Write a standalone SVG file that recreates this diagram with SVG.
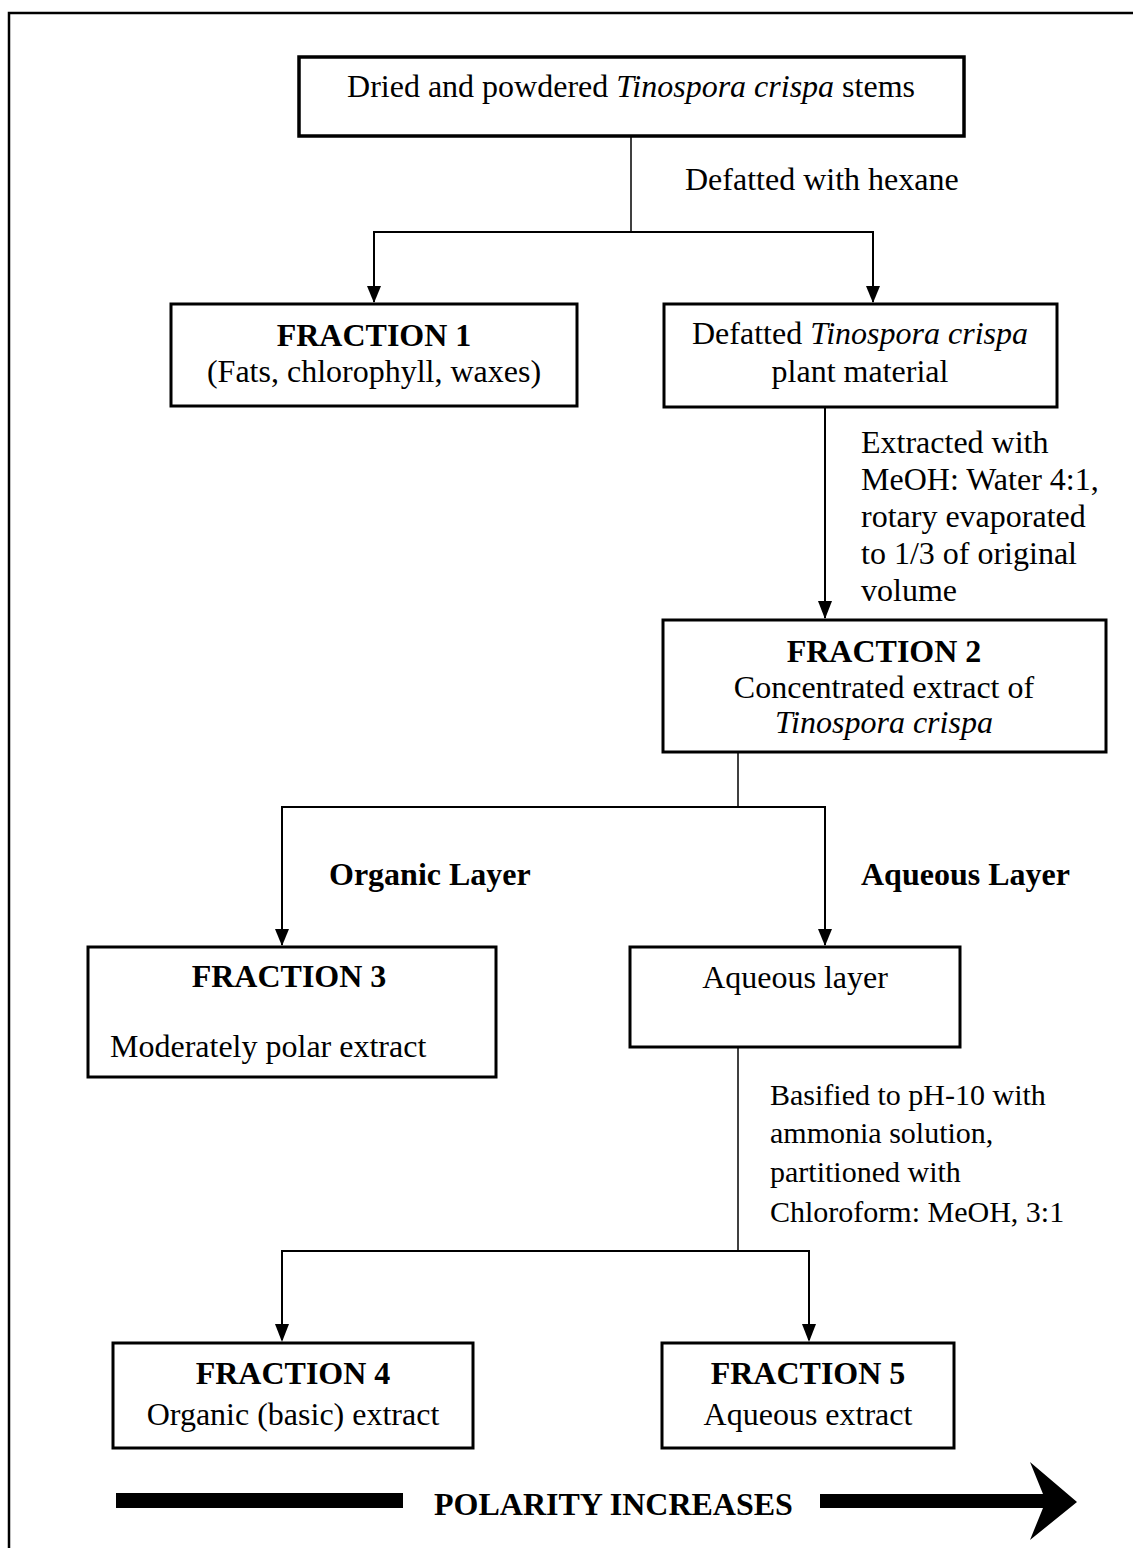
<svg xmlns="http://www.w3.org/2000/svg" width="1133" height="1548" viewBox="0 0 1133 1548">
<style>
text{font-family:"Liberation Serif","Times New Roman",serif;font-size:32px;fill:#000}
.b{font-weight:bold}
.i{font-style:italic}
.s{font-size:30px}
.m{text-anchor:middle}
.box{fill:#fff;stroke:#000;stroke-width:3}
.ln{fill:none;stroke:#000;stroke-width:2}
.thin{fill:none;stroke:#000;stroke-width:1.5}
.ah{fill:#000}
</style>
<rect x="0" y="0" width="1133" height="1548" fill="#fff"/>
<rect x="9" y="13" width="1200" height="1600" fill="none" stroke="#000" stroke-width="2.5"/>

<g id="connectors">
<line class="thin" x1="631" y1="136" x2="631" y2="232"/>
<line class="ln" x1="373" y1="232" x2="874" y2="232"/>
<path d="M374,232 V302" class="ln"/>
<path class="ah" d="M367,286 L381,286 L374,303 Z"/>
<path d="M873,232 V302" class="ln"/>
<path class="ah" d="M866,286 L880,286 L873,303 Z"/>
<path d="M825,407 V618" class="ln"/>
<path class="ah" d="M818,601 L832,601 L825,619 Z"/>
<line class="thin" x1="738" y1="752" x2="738" y2="807"/>
<line class="ln" x1="281" y1="807" x2="826" y2="807"/>
<path d="M282,807 V945" class="ln"/>
<path class="ah" d="M275,929 L289,929 L282,946 Z"/>
<path d="M825,807 V945" class="ln"/>
<path class="ah" d="M818,929 L832,929 L825,946 Z"/>
<line class="thin" x1="738" y1="1047" x2="738" y2="1251"/>
<line class="ln" x1="281" y1="1251" x2="810" y2="1251"/>
<path d="M282,1251 V1340" class="ln"/>
<path class="ah" d="M275,1324 L289,1324 L282,1342 Z"/>
<path d="M809,1251 V1340" class="ln"/>
<path class="ah" d="M802,1324 L816,1324 L809,1342 Z"/>
</g>

<g id="n_start">
<rect class="box" x="299" y="57" width="665" height="79" style="stroke-width:3.5"/>
<text x="631" y="97" class="m">Dried and powdered <tspan class="i">Tinospora crispa</tspan> stems</text>
</g>
<text id="l_hexane" x="685" y="190">Defatted with hexane</text>

<g id="n_fraction1">
<rect class="box" x="171" y="304" width="406" height="102"/>
<text x="374" y="346" class="m b">FRACTION 1</text>
<text x="374" y="382" class="m">(Fats, chlorophyll, waxes)</text>
</g>

<g id="n_defatted">
<rect class="box" x="664" y="304" width="393" height="103"/>
<text x="860" y="344" class="m">Defatted <tspan class="i">Tinospora  crispa</tspan></text>
<text x="860" y="382" class="m">plant material</text>
</g>

<g id="l_extract">
<text x="861" y="453">Extracted with</text>
<text x="861" y="490">MeOH: Water 4:1,</text>
<text x="861" y="527">rotary evaporated</text>
<text x="861" y="564">to 1/3 of original</text>
<text x="861" y="601">volume</text>
</g>

<g id="n_fraction2">
<rect class="box" x="663" y="620" width="443" height="132"/>
<text x="884" y="662" class="m b">FRACTION 2</text>
<text x="884" y="698" class="m">Concentrated extract of</text>
<text x="884" y="733" class="m i">Tinospora crispa</text>
</g>

<text id="l_organic" x="329" y="885" class="b">Organic Layer</text>
<text id="l_aqueous" x="861" y="885" class="b">Aqueous Layer</text>

<g id="n_fraction3">
<rect class="box" x="88" y="947" width="408" height="130"/>
<text x="289" y="987" class="m b">FRACTION 3</text>
<text x="110" y="1057">Moderately polar extract</text>
</g>

<g id="n_aqueous">
<rect class="box" x="630" y="947" width="330" height="100"/>
<text x="795" y="988" class="m">Aqueous layer</text>
</g>

<g id="l_basify">
<text x="770" y="1105" class="s">Basified to pH-10 with</text>
<text x="770" y="1143" class="s">ammonia solution,</text>
<text x="770" y="1182" class="s">partitioned with</text>
<text x="770" y="1222" class="s">Chloroform: MeOH, 3:1</text>
</g>

<g id="n_fraction4">
<rect class="box" x="113" y="1343" width="360" height="105"/>
<text x="293" y="1384" class="m b">FRACTION 4</text>
<text x="293" y="1425" class="m">Organic (basic) extract</text>
</g>

<g id="n_fraction5">
<rect class="box" x="662" y="1343" width="292" height="105"/>
<text x="808" y="1384" class="m b">FRACTION 5</text>
<text x="808" y="1425" class="m">Aqueous extract</text>
</g>

<g id="polarity">
<rect x="116" y="1493" width="287" height="15" fill="#000"/>
<text x="434" y="1515" class="b">POLARITY INCREASES</text>
<path d="M820,1494 L1043,1494 L1030,1462 L1077,1502 L1030,1540 L1043,1508 L820,1508 Z" fill="#000"/>
</g>
</svg>
